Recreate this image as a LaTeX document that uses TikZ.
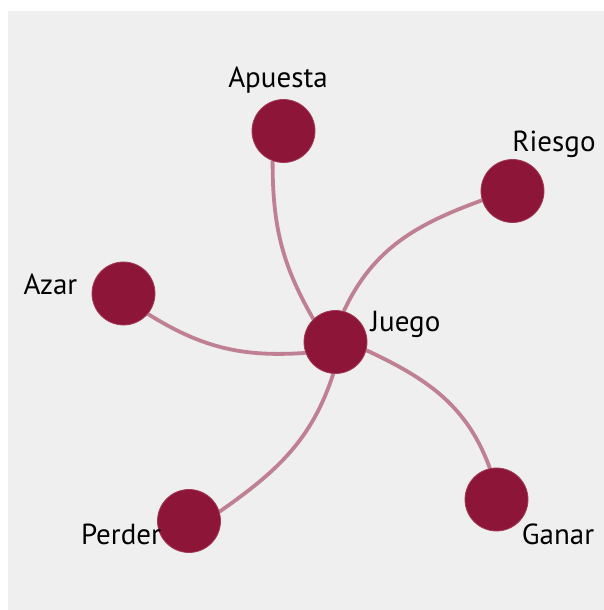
\documentclass[tikz,border=0pt]{standalone}
\usepackage{fontspec}
\setmainfont{PT Sans}
\begin{document}
\begin{tikzpicture}[x=1pt,y=1pt,
  dot/.style={circle,fill=dotred,draw=dotedge,line width=0.8pt,minimum size=63pt,inner sep=0pt},
  lbl/.style={font=\fontsize{29}{31}\selectfont,text=black,inner sep=0pt,anchor=base},
  link/.style={draw=linkpink,line width=3.8pt}]
\definecolor{dotred}{HTML}{8C1538}
\definecolor{dotedge}{HTML}{A33A58}
\definecolor{linkpink}{HTML}{BE8092}
\definecolor{bggray}{HTML}{EFEFEF}
\useasboundingbox (0,0) rectangle (604,610);
\fill[bggray] (8,0) rectangle (604,599);
% circle positions
\coordinate (cj) at (335.5,268);
\coordinate (ca) at (283.5,479);
\coordinate (cr) at (512.5,419);
\coordinate (cz) at (123.5,316.5);
\coordinate (cp) at (189,89);
\coordinate (cg) at (496.5,110.5);
% invisible anchors for edges
\node[dot,draw=none,fill=none] (juego0) at (cj) {};
\node[dot,draw=none,fill=none] (apuesta0) at (ca) {};
\node[dot,draw=none,fill=none] (riesgo0) at (cr) {};
\node[dot,draw=none,fill=none] (azar0) at (cz) {};
\node[dot,draw=none,fill=none] (perder0) at (cp) {};
\node[dot,draw=none,fill=none] (ganar0) at (cg) {};
% edges
\draw[link] (apuesta0.-110) to[out=-90,in=120] (juego0.134);
\draw[link] (riesgo0.197) to[out=200,in=65] (juego0.75);
\draw[link] (azar0.-40) to[out=-32,in=184] (juego0.200);
\draw[link] (perder0.17) to[out=35,in=-108] (juego0.-94);
\draw[link] (juego0.-15) to[out=-25,in=110] (ganar0.102);
% circles
\node[dot] (juego) at (cj) {};
\node[dot] (apuesta) at (ca) {};
\node[dot] (riesgo) at (cr) {};
\node[dot] (azar) at (cz) {};
\node[dot] (perder) at (cp) {};
\node[dot] (ganar) at (cg) {};
% labels
\node[lbl] (tapuesta) at (278,522) {Apuesta};
\node[lbl] (triesgo) at (554,458) {Riesgo};
\node[lbl] (tazar) at (50.5,315) {Azar};
\node[lbl] (tjuego) at (405.5,278) {Juego};
\node[lbl] (tperder) at (121,65) {Perder};
\node[lbl] (tganar) at (558,65) {Ganar};
\end{tikzpicture}
\end{document}
